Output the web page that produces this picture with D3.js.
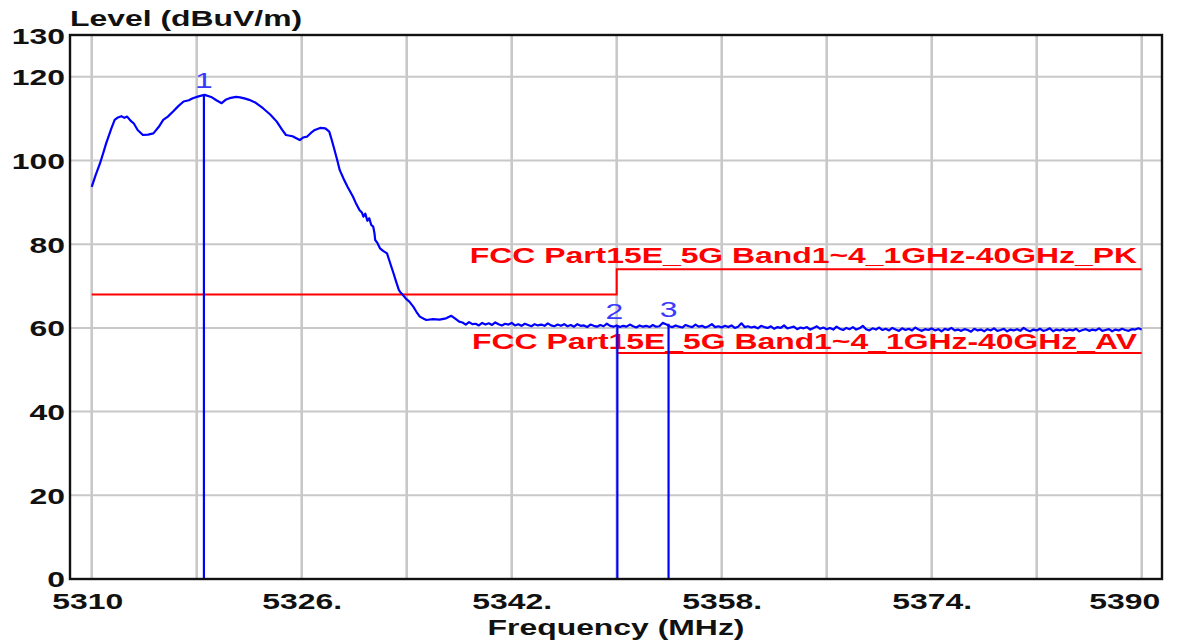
<!DOCTYPE html>
<html><head><meta charset="utf-8">
<script src="https://cdn.jsdelivr.net/npm/d3@7"></script>
<style>
html,body{margin:0;padding:0;background:#fff;}
svg{display:block;}
text{font-family:"Liberation Sans",Arial,sans-serif;}
</style></head>
<body>
<svg id="chart" width="1192" height="640"></svg>
<script>
// ---------- data ----------
const xDomain = [5310, 5390];
const yDomain = [0, 130];
const xGridTicks = [5310,5318,5326,5334,5342,5350,5358,5366,5374,5382,5390];
const xLabelTicks = [5310,5326,5342,5358,5374,5390];
const xTickLabels = ["5310","5326.","5342.","5358.","5374.","5390"];
const yGridTicks = [20,40,60,80,100,120];
const yLabelTicks = [0,20,40,60,80,100,120,130];
const yTickLabels = ["0","20","40","60","80","100","120","130"];
const xTitle = "Frequency (MHz)";
const yTitle = "Level (dBuV/m)";

// trace: rising/peak/fall part (freq, level)
const traceHeadFreq = [5310.0,5310.3,5310.63,5310.9,5311.1,5311.5,5311.75,5312.0,5312.26,5312.5,5312.7,5313.0,5313.2,5313.5,5313.9,5314.3,5314.7,5315.1,5315.45,5315.8,5316.2,5316.6,5317.0,5317.4,5317.7,5318.2,5318.6,5319.1,5319.5,5319.9,5320.2,5320.5,5321.0,5321.3,5321.7,5322.0,5322.5,5323.05,5323.6,5324.1,5324.5,5324.8,5325.3,5325.85,5326.1,5326.4,5326.7,5327.0,5327.4,5327.8,5328.1,5328.3,5328.5,5328.7,5328.9,5329.2,5329.5,5329.9,5330.1,5330.4,5330.6,5330.7,5330.85,5331.0,5331.15,5331.3,5331.45,5331.55,5331.6,5331.75,5331.97,5332.2,5332.5,5332.75,5333.0,5333.2,5333.4,5333.55,5333.7,5334.0,5334.2,5334.5,5334.75,5335.0,5335.3,5335.5,5336.0,5336.5,5337.0,5337.4,5337.7,5338.0];
const traceHeadLevel = [93.7,96.5,99.3,102.0,104.1,107.7,109.7,110.3,110.6,110.2,110.5,109.4,108.9,107.3,106.1,106.2,106.5,108.0,109.7,110.5,111.7,113.0,114.1,114.4,114.9,115.4,115.7,115.2,114.4,113.7,114.5,114.9,115.2,115.1,114.8,114.5,113.8,112.5,111.0,109.3,107.4,106.1,105.8,104.9,105.5,105.7,106.6,107.3,107.8,107.7,106.9,104.8,102.5,100.2,97.7,95.6,93.7,91.4,90.0,88.2,87.5,86.6,87.3,85.6,86.2,84.6,84.2,82.5,81.0,80.4,79.0,78.4,77.8,75.4,73.0,71.0,69.1,68.4,67.9,66.8,66.3,65.1,63.8,62.7,62.2,61.9,62.1,62.0,62.3,62.9,62.2,61.5];

// trace: noise floor, sweep points every 0.25 MHz from 5338.25 to 5390
const tailStart = 5338.25, tailStep = 0.25;
const traceTailLevel = [
61.3,60.8,61.4,60.9,61.0,60.6,61.2,60.8,
61.1,60.7,61.3,60.9,60.6,61.0,60.8,61.2,
60.6,60.9,60.5,61.0,60.7,60.4,60.9,60.6,
60.8,60.5,61.1,60.6,60.4,60.8,60.5,60.9,
60.4,60.7,60.3,60.9,60.5,60.6,60.2,60.8,
60.5,60.3,60.7,60.4,61.0,60.5,60.3,60.6,
60.2,60.5,60.3,60.8,60.4,60.1,60.6,60.3,
60.5,60.2,60.7,60.3,60.4,61.2,60.9,60.4,
60.2,60.6,60.3,60.1,60.7,60.4,60.2,60.8,
60.3,60.5,60.1,60.4,60.9,60.2,60.4,60.1,
60.5,60.2,60.6,60.0,60.3,61.1,60.2,60.4,
60.1,60.3,59.9,60.5,60.2,60.0,60.4,59.8,
60.2,60.0,60.6,59.9,60.1,60.3,59.7,60.1,
59.9,60.2,59.6,60.0,60.4,59.8,60.1,59.7,
60.0,59.6,60.3,59.8,59.5,60.0,59.7,60.2,
59.6,59.9,60.5,59.7,59.4,59.9,59.6,60.1,
59.5,59.8,59.4,60.0,59.6,59.3,59.9,59.5,
59.8,59.4,60.1,59.6,59.3,59.7,59.5,59.9,
59.4,59.7,59.2,59.8,59.5,60.0,59.4,59.6,
59.3,59.7,59.5,59.1,59.8,59.4,59.6,59.2,
59.7,59.4,59.9,59.3,59.5,59.8,59.2,59.6,
59.4,59.7,59.3,60.0,59.5,59.2,59.6,59.4,
59.8,59.3,59.5,59.9,59.2,59.6,59.4,59.7,
59.3,59.6,59.4,59.8,59.2,59.5,59.7,59.3,
59.6,59.4,59.9,59.3,59.5,59.7,59.2,59.6,
59.4,59.8,59.5,59.3,59.7,59.6,59.9,59.6];

// limit lines
const pkFreq = [5310,5350,5350,5390];
const pkLevel = [68,68,74,74];
const avFreq = [5350,5390];
const avLevel = [54,54];
const pkLabel = "FCC Part15E_5G Band1~4_1GHz-40GHz_PK";
const avLabel = "FCC Part15E_5G Band1~4_1GHz-40GHz_AV";

// markers
const markerNames = ["1","2","3"];
const markerFreq = [5318.55,5350.05,5353.95];
const markerLevel = [115.7,60.4,61.0];

// ---------- drawing ----------
const SX = 1.45; // horizontal stretch of the original bitmap fonts
const svg = d3.select("#chart");
const frame = {left:70, top:35, right:1162, bottom:579};
const x = d3.scaleLinear().domain(xDomain).range([91.7, 1141.7]);
const y = d3.scaleLinear().domain(yDomain).range([579, 35]);

// grid
svg.append("g").selectAll("line").data(xGridTicks).join("line")
  .attr("x1", d=>x(d)).attr("x2", d=>x(d))
  .attr("y1", frame.top).attr("y2", frame.bottom)
  .attr("stroke","#c8c8c8").attr("stroke-width",2.6);
svg.append("g").selectAll("line").data(yGridTicks).join("line")
  .attr("x1", frame.left).attr("x2", frame.right)
  .attr("y1", d=>y(d)).attr("y2", d=>y(d))
  .attr("stroke","#c8c8c8").attr("stroke-width",2);

// limit lines
const lineGen = d3.line().x(d=>x(d[0])).y(d=>y(d[1])).curve(d3.curveLinear);
svg.append("path").datum(pkFreq.map((f,i)=>[f,pkLevel[i]]))
  .attr("d", lineGen).attr("fill","none").attr("stroke","#ff0000").attr("stroke-width",2);
svg.append("path").datum(avFreq.map((f,i)=>[f,avLevel[i]]))
  .attr("d", lineGen).attr("fill","none").attr("stroke","#ff0000").attr("stroke-width",2);

function stretchedText(g, str, px, py, anchor, opts) {
  return g.append("text")
    .attr("transform", `translate(${px},${py}) scale(${SX},1)`)
    .attr("text-anchor", anchor)
    .attr("font-size", opts.size || 22)
    .attr("font-weight", opts.weight || "bold")
    .attr("fill", opts.fill || "#111")
    .text(str);
}

// limit labels
stretchedText(svg, pkLabel, 1137, 263, "end", {fill:"#ff0000"});
stretchedText(svg, avLabel, 1137, 349, "end", {fill:"#ff0000"});

// trace
const trace = traceHeadFreq.map((f,i)=>[f, traceHeadLevel[i]])
  .concat(traceTailLevel.map((v,i)=>[tailStart + i*tailStep, v]));
svg.append("path").datum(trace)
  .attr("d", lineGen).attr("fill","none")
  .attr("stroke","#0000ff").attr("stroke-width",2.2).attr("stroke-linejoin","round");

// markers
markerNames.forEach((m,i)=>{
  svg.append("line")
    .attr("x1", x(markerFreq[i])).attr("x2", x(markerFreq[i]))
    .attr("y1", y(markerLevel[i])).attr("y2", y(0))
    .attr("stroke","#0000ff").attr("stroke-width",2.2);
  stretchedText(svg, m, x(markerFreq[i]) - (i===1?3:0), y(markerLevel[i]) - 7, "middle",
    {weight:"normal", fill:"#3a3aff", size:22});
});

// frame
svg.append("rect")
  .attr("x", frame.left).attr("y", frame.top)
  .attr("width", frame.right-frame.left).attr("height", frame.bottom-frame.top)
  .attr("fill","none").attr("stroke","#111").attr("stroke-width",2.4);

// y axis
const yAxis = d3.axisLeft(y).tickValues(yLabelTicks).tickSize(0)
  .tickFormat((d,i)=>yTickLabels[i]);
const gy = svg.append("g").attr("transform",`translate(${frame.left},0)`).call(yAxis);
gy.select(".domain").remove();
gy.selectAll(".tick text")
  .attr("x", null).attr("dy", null)
  .attr("transform", (d)=> d===0 ? `translate(-5,7) scale(${SX},1)` : `translate(-5,8) scale(${SX},1)`)
  .attr("text-anchor","end")
  .attr("font-size",22).attr("font-weight","bold")
  .attr("font-family","'Liberation Sans',Arial,sans-serif")
  .attr("fill","#111");

// x axis
const xAxis = d3.axisBottom(x).tickValues(xLabelTicks).tickSize(0)
  .tickFormat((d,i)=>xTickLabels[i]);
const gx = svg.append("g").attr("transform",`translate(0,${frame.bottom})`).call(xAxis);
gx.select(".domain").remove();
gx.selectAll(".tick text")
  .attr("y", null).attr("dy", null)
  .attr("transform", (d,i)=> i===xLabelTicks.length-1
      ? `translate(18,30) scale(${SX},1)` : `translate(-40,30) scale(${SX},1)`)
  .attr("text-anchor", (d,i)=> i===xLabelTicks.length-1 ? "end" : "start")
  .attr("font-size",22).attr("font-weight","bold")
  .attr("font-family","'Liberation Sans',Arial,sans-serif")
  .attr("fill","#111");

// titles
stretchedText(svg, yTitle, 70, 26, "start", {});
stretchedText(svg, xTitle, 616, 635, "middle", {});
</script>
</body></html>
